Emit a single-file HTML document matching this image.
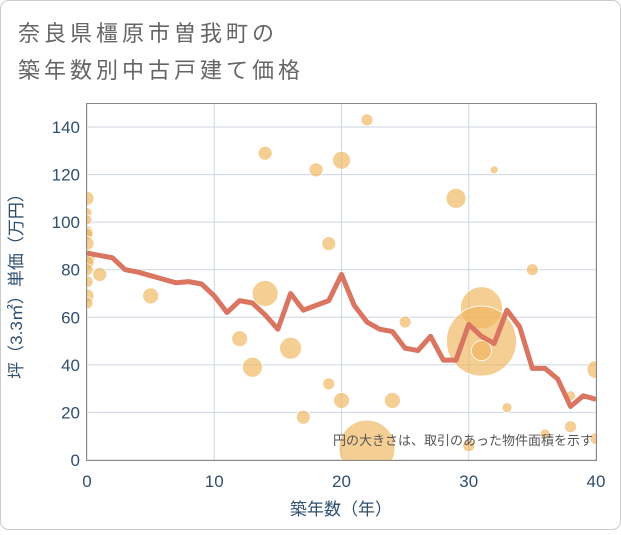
<!DOCTYPE html>
<html><head><meta charset="utf-8"><style>
body{margin:0;background:#fff;}
svg{font-family:"Liberation Sans","Noto Sans CJK JP",sans-serif;}
</style></head><body>
<svg id="chart" width="621" height="530" xmlns="http://www.w3.org/2000/svg">
<defs><clipPath id="plotclip"><rect x="87" y="103" width="509" height="357"/></clipPath></defs>
<rect x="0.5" y="0.5" width="620" height="529" rx="8" fill="#fff" stroke="#ccc"/>
<text x="18" y="41" font-size="22" letter-spacing="4" fill="#666">奈良県橿原市曽我町の</text>
<text x="18" y="78" font-size="22" letter-spacing="4" fill="#666">築年数別中古戸建て価格</text>
<g id="grid"></g>
<g id="scatter" clip-path="url(#plotclip)"></g>
<g id="line" clip-path="url(#plotclip)"></g>
<rect x="86.5" y="103.5" width="510" height="357" fill="none" stroke="#888"/>
<g id="ticks"></g>
<text x="22" y="282" font-size="17" fill="#2f4f6f" transform="rotate(-90 22 282)" text-anchor="middle">坪（3.3㎡）単価（万円）</text>
<text x="341" y="515" font-size="17" fill="#2f4f6f" text-anchor="middle">築年数（年）</text>
<text x="593" y="445" font-size="13" fill="#555" text-anchor="end">円の大きさは、取引のあった物件面積を示す</text>
</svg>
<script>
const xTicks=[0,10,20,30,40];
const yTicks=[0,20,40,60,80,100,120,140];
const lineYears=[0,1,2,3,4,5,6,7,8,9,10,11,12,13,14,15,16,17,18,19,20,21,22,23,24,25,26,27,28,29,30,31,32,33,34,35,36,37,38,39,40];
const linePrices=[87,86,85,80,79,77.5,76,74.5,75,74,69,62,67,66,61,55,70,63,65,67,78,65,58,55,54,47,46,52,42,42,57,52,49,63,56,38.5,38.5,34,22.5,27,25.5];
const ptYears=[0,0,0,0,0,0,0,0,0,0,0,0,1,5,12,13,14,14,16,17,18,19,19,20,20,22,22,24,25,29,30,31,31,31,32,33,35,36,38,38,40,40];
const ptPrices=[110,104,101,96,95,91,85,83,80,75,69,66,78,69,51,39,129,70,47,18,122,91,32,126,25,143,5,25,58,110,6,64,50,46,122,22,80,11,27,14,38,9];
const ptSizes=[7,5,5,6,6,7,8,7,6,6,7,6,7,8,8,10,7,13,11,7,7,7,6,9,8,6,28,8,6,10,6,21,35,10,4,5,6,5,5,6,9,6];
const X0=87,X1=596,Y0=460,Y1=127;
const xs=v=>X0+(v-0)/40*(X1-X0);
const ys=v=>Y0-(v/140)*(Y0-Y1);
const NS="http://www.w3.org/2000/svg";
const grid=document.getElementById('grid'),ticks=document.getElementById('ticks');
xTicks.forEach(t=>{
 const l=document.createElementNS(NS,'line');
 l.setAttribute('x1',xs(t));l.setAttribute('x2',xs(t));l.setAttribute('y1',103);l.setAttribute('y2',460);
 l.setAttribute('stroke','#ccd6e0');
 
 
 grid.appendChild(l);
 const tx=document.createElementNS(NS,'text');
 tx.setAttribute('x',xs(t));tx.setAttribute('y',487);tx.setAttribute('font-size','17');tx.setAttribute('fill','#2f4f6f');tx.setAttribute('text-anchor','middle');
 tx.textContent=t;
 
 
 ticks.appendChild(tx);
});
yTicks.forEach(t=>{
 const l=document.createElementNS(NS,'line');
 l.setAttribute('x1',87);l.setAttribute('x2',596);l.setAttribute('y1',ys(t));l.setAttribute('y2',ys(t));
 l.setAttribute('stroke','#ccd6e0');
 
 
 grid.appendChild(l);
 const tx=document.createElementNS(NS,'text');
 tx.setAttribute('x',80);tx.setAttribute('y',ys(t)+6);tx.setAttribute('font-size','17');tx.setAttribute('fill','#2f4f6f');tx.setAttribute('text-anchor','end');
 tx.textContent=t;
 
 
 ticks.appendChild(tx);
});
const sc=document.getElementById('scatter');
ptYears.forEach((yr,i)=>{
 const c=document.createElementNS(NS,'circle');
 c.setAttribute('cx',xs(yr));c.setAttribute('cy',ys(ptPrices[i]));c.setAttribute('r',ptSizes[i]);
 c.setAttribute('fill','rgba(240,180,90,0.65)');c.setAttribute('stroke','#fff');c.setAttribute('stroke-width','0.8');
 
 
 sc.appendChild(c);
});
const p=document.createElementNS(NS,'polyline');
p.setAttribute('points',lineYears.map((y,i)=>xs(y)+','+ys(linePrices[i])).join(' '));
p.setAttribute('fill','none');p.setAttribute('stroke','#d97560');p.setAttribute('stroke-width','5');p.setAttribute('stroke-linejoin','round');


document.getElementById('line').appendChild(p);
</script>
</body></html>
